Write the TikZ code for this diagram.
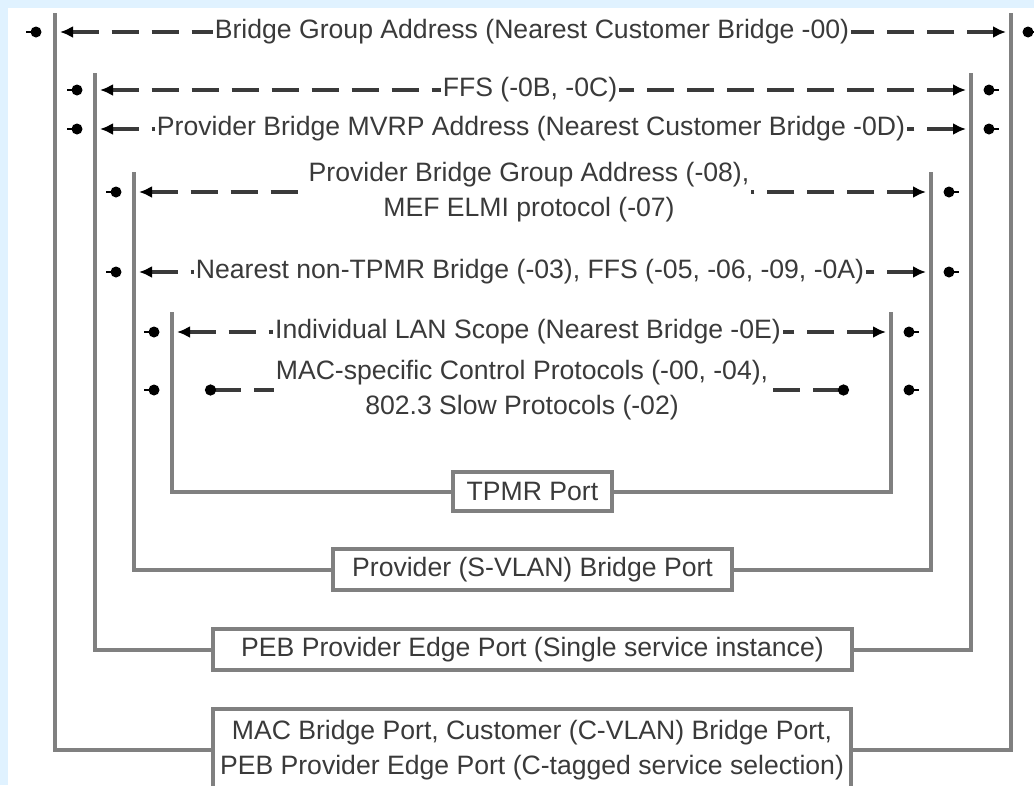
\documentclass[tikz,border=0pt]{standalone}
\usepackage{fontspec}
\setmainfont{Liberation Sans}
\usetikzlibrary{arrows.meta}

\definecolor{bgblue}{HTML}{E0F2FF}
\definecolor{framegray}{HTML}{808080}
\definecolor{dashgray}{HTML}{3A3A3A}
\definecolor{textgray}{HTML}{3A3A3A}

\def\addrfont{\fontsize{26.6}{35}\selectfont}

\begin{document}
\begin{tikzpicture}[x=1pt,y=-1pt,
  addrlabel/.style={font=\addrfont,text=textgray,align=center,inner xsep=2pt,inner ysep=1pt},
  portbox/.style={addrlabel,draw=framegray,line width=4pt,inner sep=0pt},
  frame/.style={draw=framegray,line width=4pt},
  addr/.style={draw=dashgray,line width=3.5pt,dash pattern=on 27pt off 13pt},
  stopend/.style={{Latex[length=13pt,width=12pt,black]}-},
  openend/.style={{Circle[length=11pt,black]}-},
  port/.style={circle,fill=black,minimum size=11pt,inner sep=0pt},
  stub/.style={draw=black,line width=2.5pt}]
  \useasboundingbox (0,0) rectangle (1034,785);
  \fill[bgblue] (0,0) rectangle (1034,785);
  \fill[white] (8,8) rectangle (1034,785);

  % port boxes
  \node[portbox,minimum width=159pt,minimum height=39pt] (tpmr) at (532.5,491.5) {TPMR Port};
  \node[portbox,minimum width=399pt,minimum height=41pt] (svlan) at (532.5,569.5) {Provider (S-VLAN) Bridge Port};
  \node[portbox,minimum width=639pt,minimum height=41pt] (peb) at (532.5,649.5) {PEB Provider Edge Port (Single service instance)};
  \node[portbox,minimum width=638pt,minimum height=82pt] (mac) at (532,750) {MAC Bridge Port, Customer (C-VLAN) Bridge Port,\\PEB Provider Edge Port (C-tagged service selection)};

  % frames
  \coordinate (f1l) at (55,13);   \coordinate (f1r) at (1011,13);
  \coordinate (f2l) at (95,73);   \coordinate (f2r) at (971,73);
  \coordinate (f3l) at (134,172); \coordinate (f3r) at (931,172);
  \coordinate (f4l) at (172,312); \coordinate (f4r) at (891,312);
  \draw[frame] (f1l) |- (mac.west);
  \draw[frame] (f1r) |- (mac.east);
  \draw[frame] (f2l) |- (peb.west);
  \draw[frame] (f2r) |- (peb.east);
  \draw[frame] (f3l) |- (svlan.west);
  \draw[frame] (f3r) |- (svlan.east);
  \draw[frame] (f4l) |- (tpmr.west);
  \draw[frame] (f4r) |- (tpmr.east);

  % addresses
  \node[addrlabel] (gba) at (532,32) {Bridge Group Address (Nearest Customer Bridge -00)};
  \node[addrlabel] (ffs) at (530,90) {FFS (-0B, -0C)};
  \node[addrlabel] (mvrp) at (531,129) {Provider Bridge MVRP Address (Nearest Customer Bridge -0D)};
  \node[addrlabel] (pbga) at (529,192) {Provider Bridge Group Address (-08),\\MEF ELMI protocol (-07)};
  \node[addrlabel] (ntpmr) at (530,272) {Nearest non-TPMR Bridge (-03), FFS (-05, -06, -09, -0A)};
  \node[addrlabel] (lan) at (528,332) {Individual LAN Scope (Nearest Bridge -0E)};
  \node[addrlabel] (macsp) at (522,390) {MAC-specific Control Protocols (-00, -04),\\802.3 Slow Protocols (-02)};

  \coordinate (a1l) at (60,32);   \coordinate (a1r) at (1006,32);
  \coordinate (a2l) at (100,90);  \coordinate (a2r) at (966,90);
  \coordinate (a3l) at (100,129); \coordinate (a3r) at (966,129);
  \coordinate (a4l) at (139,192); \coordinate (a4r) at (926,192);
  \coordinate (a5l) at (139,272); \coordinate (a5r) at (926,272);
  \coordinate (a6l) at (177,332); \coordinate (a6r) at (886,332);
  \coordinate (a7l) at (205,390); \coordinate (a7r) at (849,390);

  \draw[addr,stopend] (a1l) -- (gba);
  \draw[addr,stopend] (a1r) -- (gba);
  \draw[addr,stopend] (a2l) -- (ffs);
  \draw[addr,stopend] (a2r) -- (ffs);
  \draw[addr,stopend] (a3l) -- (mvrp);
  \draw[addr,stopend] (a3r) -- (mvrp);
  \draw[addr,stopend] (a4l) -- (pbga);
  \draw[addr,stopend] (a4r) -- (pbga);
  \draw[addr,stopend] (a5l) -- (ntpmr);
  \draw[addr,stopend] (a5r) -- (ntpmr);
  \draw[addr,stopend] (a6l) -- (lan);
  \draw[addr,stopend] (a6r) -- (lan);
  \draw[addr,openend] (a7l) -- (macsp);
  \draw[addr,openend] (a7r) -- (macsp);

  % ports outside the frames
  \node[port] (o1l) at (36,32) {};   \draw[stub] (o1l.center) -- ++(-10,0);
  \node[port] (o1r) at (1028,32) {}; \draw[stub] (o1r.center) -- ++(10,0);
  \node[port] (o2l) at (77,90) {};   \draw[stub] (o2l.center) -- ++(-10,0);
  \node[port] (o2r) at (989,90) {};  \draw[stub] (o2r.center) -- ++(10,0);
  \node[port] (o3l) at (77,129) {};  \draw[stub] (o3l.center) -- ++(-10,0);
  \node[port] (o3r) at (989,129) {}; \draw[stub] (o3r.center) -- ++(10,0);
  \node[port] (o4l) at (116,192) {}; \draw[stub] (o4l.center) -- ++(-10,0);
  \node[port] (o4r) at (949,192) {}; \draw[stub] (o4r.center) -- ++(10,0);
  \node[port] (o5l) at (116,272) {}; \draw[stub] (o5l.center) -- ++(-10,0);
  \node[port] (o5r) at (949,272) {}; \draw[stub] (o5r.center) -- ++(10,0);
  \node[port] (o6l) at (154,332) {}; \draw[stub] (o6l.center) -- ++(-10,0);
  \node[port] (o6r) at (909,332) {}; \draw[stub] (o6r.center) -- ++(10,0);
  \node[port] (o7l) at (154,390) {}; \draw[stub] (o7l.center) -- ++(-10,0);
  \node[port] (o7r) at (909,390) {}; \draw[stub] (o7r.center) -- ++(10,0);
\end{tikzpicture}
\end{document}
